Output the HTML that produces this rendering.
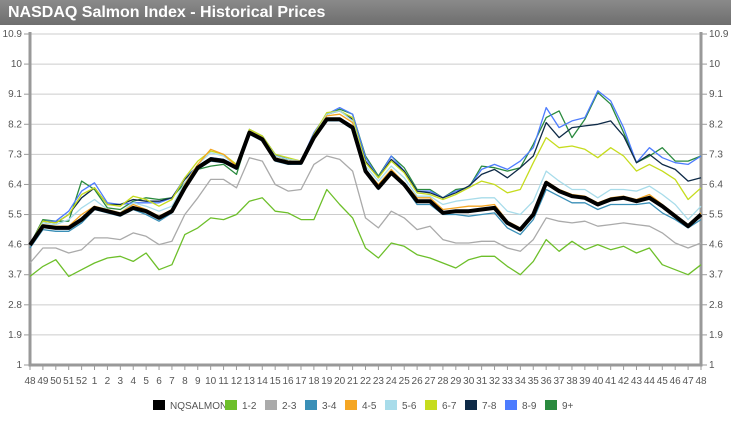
<!DOCTYPE html>
<html><head><meta charset="utf-8"><style>
body{margin:0;background:#fff;font-family:"Liberation Sans",sans-serif}
#title{position:absolute;left:0;top:0;width:731px;height:25px;background:linear-gradient(#8a8a8a,#6e6e6e);color:#fff;font-weight:bold;font-size:16px;line-height:25px;padding-left:8px;box-sizing:border-box}
svg{position:absolute;left:0;top:0}
text{font-family:"Liberation Sans",sans-serif;font-size:10px;fill:#555}
</style></head><body>
<div id="title">NASDAQ Salmon Index - Historical Prices</div>
<svg id="chart" width="731" height="423"></svg>
<script>
const categories=["48","49","50","51","52","1","2","3","4","5","6","7","8","9","10","11","12","13","14","15","16","17","18","19","20","21","22","23","24","25","26","27","28","29","30","31","32","33","34","35","36","37","38","39","40","41","42","43","44","45","46","47","48"];
const yTicks=[1,1.9,2.8,3.7,4.6,5.5,6.4,7.3,8.2,9.1,10,10.9];
const seriesNames=["NQSALMON","1-2","2-3","3-4","4-5","5-6","6-7","7-8","8-9","9+"];
const sNQ=[4.59,5.15,5.1,5.1,5.35,5.7,5.6,5.5,5.7,5.6,5.4,5.6,6.3,6.9,7.15,7.1,6.9,7.95,7.75,7.15,7.05,7.05,7.8,8.35,8.35,8.1,6.8,6.3,6.75,6.4,5.9,5.9,5.55,5.6,5.6,5.65,5.7,5.25,5.05,5.5,6.45,6.2,6.05,6.0,5.8,5.95,6.0,5.9,6.0,5.75,5.45,5.15,5.5];
const s12=[3.65,3.95,4.15,3.65,3.85,4.05,4.2,4.25,4.1,4.35,3.85,4.0,4.9,5.1,5.4,5.35,5.5,5.9,6.0,5.6,5.55,5.35,5.35,6.25,5.8,5.4,4.5,4.2,4.65,4.55,4.3,4.2,4.05,3.9,4.15,4.25,4.25,3.95,3.7,4.1,4.75,4.4,4.7,4.45,4.6,4.45,4.55,4.35,4.5,4.0,3.85,3.7,4.0];
const s23=[4.05,4.5,4.5,4.35,4.45,4.8,4.8,4.75,4.95,4.85,4.6,4.7,5.5,6.0,6.55,6.55,6.3,7.2,7.1,6.4,6.2,6.25,7.0,7.25,7.15,6.8,5.4,5.1,5.6,5.4,5.05,5.15,4.75,4.65,4.65,4.7,4.7,4.5,4.4,4.75,5.4,5.3,5.25,5.3,5.15,5.2,5.25,5.2,5.15,4.95,4.65,4.5,4.65];
const s34=[4.5,5.05,5.0,5.0,5.25,5.65,5.55,5.45,5.65,5.5,5.3,5.55,6.25,6.85,7.1,7.05,6.85,7.9,7.7,7.1,7.0,7.0,7.75,8.3,8.3,8.05,6.75,6.25,6.7,6.35,5.8,5.8,5.5,5.5,5.45,5.5,5.55,5.1,4.9,5.35,6.25,6.05,5.85,5.85,5.65,5.8,5.8,5.8,5.85,5.55,5.35,5.1,5.35];
const s45=[4.62,5.2,5.15,5.15,5.5,5.75,5.65,5.55,5.8,5.65,5.45,5.65,6.4,7.0,7.45,7.3,6.95,8.0,7.8,7.2,7.1,7.1,7.85,8.45,8.5,8.25,6.85,6.4,6.85,6.45,6.0,6.0,5.65,5.7,5.75,5.75,5.8,5.3,5.1,5.55,6.5,6.25,6.1,6.05,5.85,6.0,6.05,5.95,6.1,5.8,5.5,5.2,5.55];
const s56=[4.6,5.25,5.2,5.35,5.7,5.95,5.65,5.55,5.85,5.75,5.6,5.75,6.45,7.0,7.35,7.25,6.95,8.0,7.8,7.25,7.15,7.1,7.85,8.5,8.6,8.3,6.95,6.5,6.95,6.6,6.05,6.05,5.8,5.9,5.95,6.0,6.0,5.6,5.5,5.9,6.8,6.5,6.25,6.25,6.0,6.25,6.25,6.2,6.35,6.1,5.8,5.35,5.75];
const s67=[4.6,5.3,5.25,5.5,6.1,6.3,5.8,5.75,6.05,5.95,5.75,5.95,6.6,7.1,7.4,7.3,7.0,8.05,7.85,7.3,7.2,7.1,7.9,8.55,8.6,8.4,7.05,6.6,7.1,6.75,6.15,6.1,5.95,6.1,6.3,6.5,6.4,6.15,6.25,7.05,7.8,7.5,7.55,7.45,7.2,7.5,7.25,6.8,7.0,6.8,6.55,5.95,6.3];
const s78=[4.6,5.3,5.25,5.5,6.0,6.3,5.8,5.8,5.95,5.9,5.9,6.0,6.55,6.95,7.2,7.15,6.95,8.0,7.8,7.25,7.15,7.1,7.9,8.5,8.6,8.35,7.1,6.6,7.15,6.8,6.2,6.15,6.0,6.15,6.35,6.7,6.85,6.6,6.9,7.25,8.25,7.8,8.1,8.15,8.2,8.3,7.85,7.05,7.3,7.0,6.85,6.5,6.6];
const s89=[4.6,5.3,5.3,5.6,6.2,6.45,5.85,5.8,5.85,5.85,5.85,6.0,6.6,6.95,7.2,7.15,6.95,8.05,7.85,7.3,7.15,7.1,7.95,8.5,8.7,8.5,7.2,6.6,7.25,6.8,6.2,6.2,6.0,6.2,6.3,6.85,7.0,6.85,7.1,7.5,8.7,8.1,8.3,8.4,9.2,8.9,8.1,7.05,7.5,7.2,7.05,7.0,7.25];
const s9p=[4.6,5.35,5.3,5.3,6.5,6.25,5.7,5.65,5.9,6.0,5.95,6.0,6.45,6.85,6.95,7.0,6.7,7.95,7.85,7.3,7.1,7.05,7.9,8.5,8.65,8.5,7.25,6.65,7.25,6.9,6.25,6.25,6.0,6.25,6.3,6.95,6.9,6.8,6.9,7.6,8.4,8.6,7.8,8.35,9.15,8.8,7.95,7.05,7.25,7.5,7.1,7.1,7.25];
const seriesData=[sNQ,s12,s23,s34,s45,s56,s67,s78,s89,s9p];
const colors=["#000","#6dbf2a","#aaaaaa","#3a8fb7","#f5a623","#a8dcea","#c6dc1e","#0e2a47","#4d7cfe","#2a8a3e"];
const X0=30,X1=701,YB=365,YT=34,VMIN=1,VMAX=10.9;
function xs(i){return X0+i*(X1-X0)/(categories.length-1);}
function ys(v){return YB-(v-VMIN)*(YB-YT)/(VMAX-VMIN);}
const svg=document.getElementById('chart');const NS="http://www.w3.org/2000/svg";
function mk(t,a,p){const e=document.createElementNS(NS,t);for(const k in a)e.setAttribute(k,a[k]);(p||svg).appendChild(e);return e;}
yTicks.forEach(v=>{const y=ys(v);
 if(v>VMIN){const g=mk('line',{x1:X0,x2:X1,y1:y,y2:y,stroke:'#cccccc','stroke-width':1});
 
 }
 mk('line',{x1:X0-6,x2:X0,y1:y,y2:y,stroke:'#999'});mk('line',{x1:X1,x2:X1+6,y1:y,y2:y,stroke:'#999'});
 const l=mk('text',{x:X0-8,y:y+3,'text-anchor':'end'});l.textContent=v;
 
 
 const r=mk('text',{x:X1+8,y:y+3});r.textContent=v;
 
 
});
categories.forEach((c,i)=>{const x=xs(i);mk('line',{x1:x,x2:x,y1:YB,y2:YB+5,stroke:'#999'});
 const t=mk('text',{x:x,y:YB+19,'text-anchor':'middle'});t.textContent=c;
 
 });
const ax=mk('path',{d:`M${X0} ${YT-2}V${YB}H${X1}V${YT-2}`,fill:'none',stroke:'#999','stroke-width':3});


for(let s=seriesData.length-1;s>=0;s--){const d=seriesData[s].map((v,i)=>(i?'L':'M')+xs(i).toFixed(1)+' '+ys(v).toFixed(1)).join('');
 const p=mk('path',{d:d,fill:'none',stroke:colors[s],'stroke-width':s==0?4:1.3,'stroke-linejoin':'round'});
 
 }
const lx=[153,225,265,305,345,385,425,465,505,545];
seriesNames.forEach((n,s)=>{const g=mk('g',{});
 
 
 mk('rect',{x:lx[s],y:400,width:12,height:10,fill:colors[s]},g);
 const t=mk('text',{x:lx[s]+17,y:409},g);t.textContent=n;});
</script>
</body></html>
